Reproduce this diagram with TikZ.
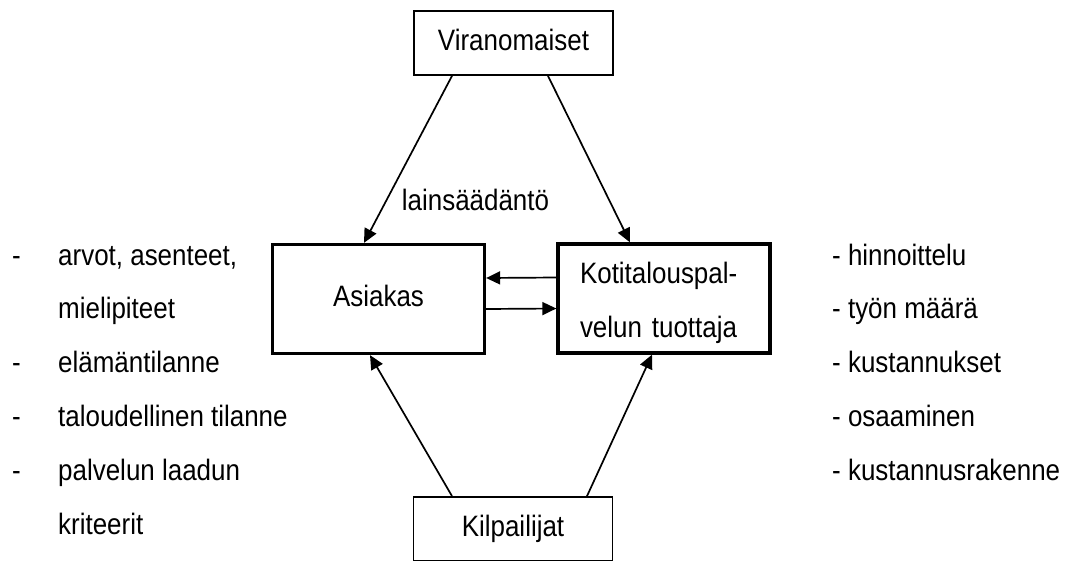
\documentclass[tikz,border=0pt]{standalone}
\usepackage{fontspec}
\setmainfont{Liberation Sans}[FakeStretch = 0.88]
\usetikzlibrary{arrows.meta}

\begin{document}
\begin{tikzpicture}[x = 1pt, y = -1pt,
    font = \fontsize{29.5}{54}\selectfont,
    freccia/.style = {line width = 1.7pt, -{Triangle[length = 14pt, width = 13pt]}},
    riquadro/.style = {draw, line width = 1.8pt, minimum width = 199pt, minimum height = 64pt, inner sep = 0pt, text height = 19pt, text depth = 5pt},
    attore/.style = {draw, line width = 3.3pt, minimum width = 212pt, minimum height = 109pt, inner sep = 0pt},
    voce/.style = {anchor = base west, inner sep = 0pt}]
    % Parametri
    \pgfmathsetmacro{\riga}{53.8}
    \pgfmathsetmacro{\primo}{265}
    \pgfmathsetmacro{\trat}{12}
    \pgfmathsetmacro{\sx}{58}
    \pgfmathsetmacro{\dx}{832}
    % Cornice
    \useasboundingbox (0,0) rectangle (1071,560);
    \clip (0,0) rectangle (1071,560);
    % Riquadri
    \node[riquadro] (viran) at (513.5,43) {Viranomaiset};
    \node[riquadro] (kilp) at (513,529) {Kilpailijat};
    \node[attore, text height = 19pt, text depth = 5pt] (asiakas) at (378.5,299) {Asiakas};
    \node[attore, align = left, text width = 168pt, text height = 24pt, text depth = 55pt] (koti) at (664,298.5) {Kotitalouspal-\\velun tuottaja};
    % Frecce
    \draw[freccia] ([xshift = -61.5pt]viran.south) -- ([xshift = -14.5pt]asiakas.north);
    \draw[freccia] ([xshift = 34.5pt]viran.south) -- ([xshift = -34pt]koti.north);
    \draw[freccia] ([xshift = -61pt]kilp.north) -- ([xshift = -8.5pt]asiakas.south);
    \draw[freccia] ([xshift = 74pt]kilp.north) -- ([xshift = -12pt]koti.south);
    \draw[freccia] ([yshift = 21pt]koti.west) -- ([yshift = 21pt]asiakas.east);
    \draw[freccia] ([yshift = -10pt]asiakas.east) -- ([yshift = -10pt]koti.west);
    \node[anchor = base] (laki) at (475.5,210) {lainsäädäntö};
    % Elenco sinistro
    \node[voce] (tr1) at (\trat,\primo) {-};
    \node[voce] (sx1) at (\sx,\primo) {arvot, asenteet,};
    \node[voce] (sx2) at (\sx,{\primo+\riga}) {mielipiteet};
    \node[voce] (tr3) at (\trat,{\primo+2*\riga}) {-};
    \node[voce] (sx3) at (\sx,{\primo+2*\riga}) {elämäntilanne};
    \node[voce] (tr4) at (\trat,{\primo+3*\riga}) {-};
    \node[voce] (sx4) at (\sx,{\primo+3*\riga}) {taloudellinen tilanne};
    \node[voce] (tr5) at (\trat,{\primo+4*\riga}) {-};
    \node[voce] (sx5) at (\sx,{\primo+4*\riga}) {palvelun laadun};
    \node[voce] (sx6) at (\sx,{\primo+5*\riga}) {kriteerit};
    % Elenco destro
    \node[voce] (dx1) at (\dx,\primo) {- hinnoittelu};
    \node[voce] (dx2) at (\dx,{\primo+\riga}) {- työn määrä};
    \node[voce] (dx3) at (\dx,{\primo+2*\riga}) {- kustannukset};
    \node[voce] (dx4) at (\dx,{\primo+3*\riga}) {- osaaminen};
    \node[voce] (dx5) at (\dx,{\primo+4*\riga}) {- kustannusrakenne};
\end{tikzpicture}
\end{document}
